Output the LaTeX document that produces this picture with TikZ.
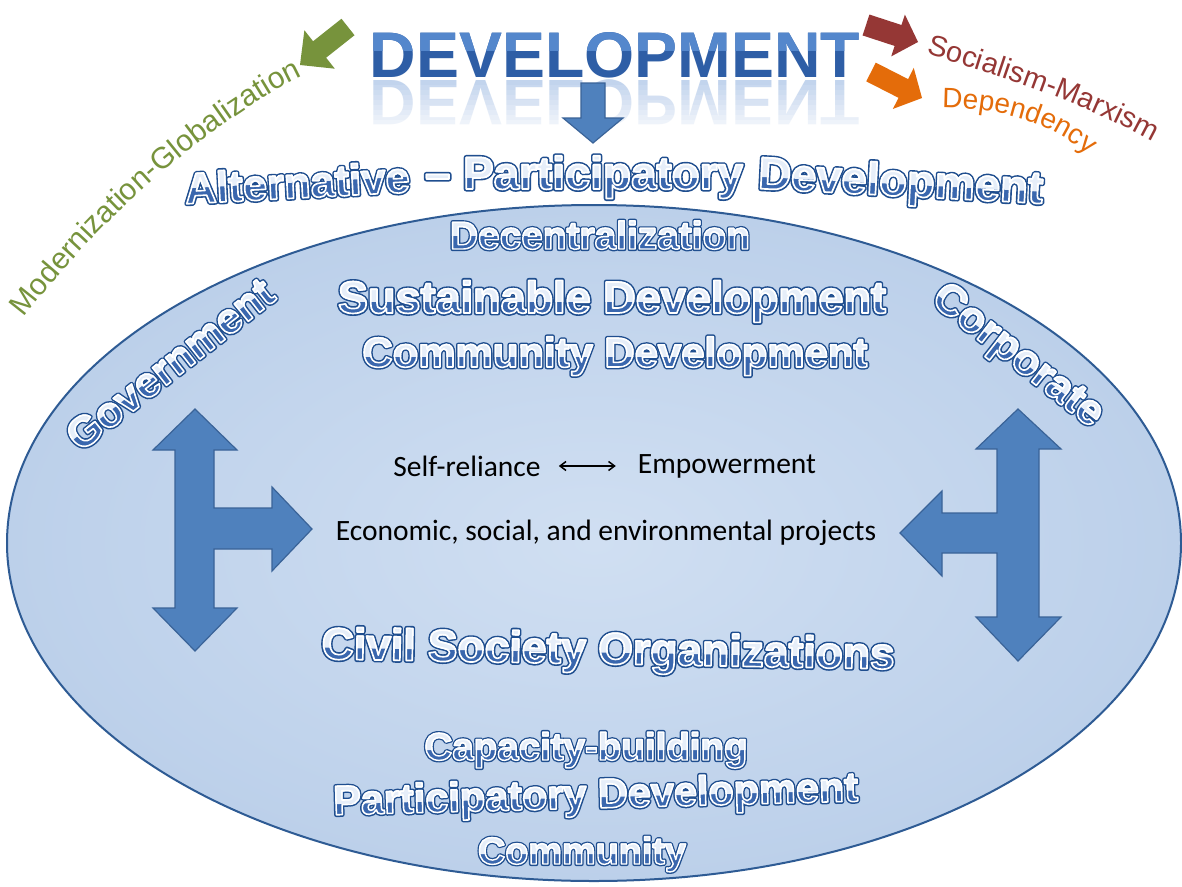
\documentclass[tikz,border=0pt]{standalone}
\usepackage{fontspec}
\usepackage{graphicx}
\usetikzlibrary{calc,decorations.text,arrows.meta}
\setmainfont{Liberation Sans}
\newfontfamily\wafont{Liberation Sans}
\newfontfamily\calfont{Carlito}
\definecolor{ellin}{HTML}{D0DFF2}
\definecolor{ellout}{HTML}{BCD0EA}
\definecolor{ellborder}{HTML}{2E5B94}
\definecolor{afill}{HTML}{4F81BD}
\definecolor{adraw}{HTML}{3A6398}
\definecolor{wdark}{HTML}{1F4E8F}
\definecolor{wlight}{HTML}{E6EEF9}
\definecolor{wblue}{HTML}{3A67AE}
\definecolor{tdark}{HTML}{2E5EA6}
\definecolor{tlight}{HTML}{5487CC}
\definecolor{trefl}{HTML}{A9C2E6}
\definecolor{mgreen}{HTML}{77933C}
\definecolor{mred}{HTML}{953735}
\definecolor{morange}{HTML}{E46C0A}
% stroked text: #1 fill colour, #2 stroke rgb, #3 line width, #4 text
\newcommand\strk[4]{{\color{#1}\special{pdf:literal direct 2 Tr #3 w 1 j #2 RG}#4\special{pdf:literal direct 0 Tr}}}
\newcommand\wabase[1]{%
 \rlap{\strk{wdark}{0.122 0.306 0.561}{4.4}{#1}}%
 \strk{wblue}{1 1 1}{1.5}{#1}}
\newcommand\watop[1]{\strk{wlight}{1 1 1}{1.5}{#1}}
\newcommand\wafmt{\wafont\bfseries\fontsize{40}{40}\selectfont}
% #1 name, #2 position, #3 rotation, #4 width, #5 anchor, #6 text
\newcommand\wordart[6]{%
 \node[inner sep=0, rotate=#3, anchor=#5] (#1) at (#2) {\resizebox{#4}{!}{\wafmt\wabase{#6}}};
 \begin{scope}
 \clip (#1.north west) -- (#1.north east) -- ($(#1.north east)!0.5!(#1.south east)$) -- ($(#1.north west)!0.5!(#1.south west)$) -- cycle;
 \node[inner sep=0, rotate=#3, anchor=#5] at (#2) {\resizebox{#4}{!}{\wafmt\watop{#6}}};
 \end{scope}}
% colored block arrow: #1 colour, #2 tail, #3 tip, #4 half shaft, #5 half head, #6 head length, #7 prefix
\newcommand\blockarrow[7]{%
 \coordinate (#7T) at #2; \coordinate (#7P) at #3;
 \coordinate (#7B) at ($(#7P)!#6!(#7T)$);
 \fill[#1] ($(#7T)!#4!90:(#7P)$) -- ($(#7B)!#4!90:(#7P)$) -- ($(#7B)!#5!90:(#7P)$) -- (#7P)
   -- ($(#7B)!#5!-90:(#7P)$) -- ($(#7B)!#4!-90:(#7P)$) -- ($(#7T)!#4!-90:(#7P)$) -- cycle;}
\tikzset{
 blockfill/.style={fill=afill, draw=adraw, line width=1.2pt, line join=miter},
 caltext/.style={font=\calfont\fontsize{29.5}{32}\selectfont, inner sep=0},
}
\begin{document}
\begin{tikzpicture}[x=1pt,y=-1pt]
\useasboundingbox (0,0) rectangle (1182,886);
\fill[white] (0,0) rectangle (1182,886);
% ellipse
\shade[inner color=ellin, outer color=ellout] (594,543) ellipse [x radius=587pt, y radius=338pt];
\draw[ellborder, line width=2pt] (594,543) ellipse [x radius=587pt, y radius=338pt];
% title reflection
\node[inner sep=0, anchor=base, yscale=-1] (devr) at (615,80) {\resizebox{490pt}{!}{\bfseries\color{trefl}DEVELOPMENT}};
\foreach \i [evaluate=\i as \op using {0.3+0.7*\i/11}] in {0,...,11} {
  \fill[white, opacity=\op] (360,{80+\i*5}) rectangle (875,{85+\i*5});
}
\fill[white] (360,140) rectangle (875,145);
% title
\node[inner sep=0, anchor=base] (dev) at (615,77) {\resizebox{490pt}{!}{\bfseries\color{tdark}DEVELOPMENT}};
\begin{scope}
 \clip (360,0) rectangle (875,50);
 \node[inner sep=0, anchor=base] at (615,77) {\resizebox{490pt}{!}{\bfseries\color{tlight}DEVELOPMENT}};
\end{scope}
% down arrow
\draw[blockfill] (581,83) -- (605,83) -- (605,118) -- (623,118) -- (593,143) -- (563,118) -- (581,118) -- cycle;
% coloured arrows
\blockarrow{mgreen}{(348,27)}{(300,65)}{10.5pt}{24.5pt}{25pt}{g}
\blockarrow{mred}{(866,25)}{(918,42)}{11pt}{22pt}{21pt}{r}
\blockarrow{morange}{(871,72)}{(922,98)}{10.5pt}{23pt}{21pt}{o}
% curved labels
\path[decorate, decoration={text along path, text color=mgreen,
  text={|\fontsize{30}{30}\selectfont|Modernization-Globalization}}]
  (24,318) .. controls (105,214) and (197,134) .. (294,80) -- (340,57);
\path[decorate, decoration={text along path, text color=mred,
  text={|\fontsize{29}{29}\selectfont|Socialism-Marxism}}]
  (926,54) .. controls (1017,80) and (1091,108) .. (1150,140) -- (1182,165);
\path[decorate, decoration={text along path, text color=morange,
  text={|\fontsize{28}{28}\selectfont|Dependency}}]
  (942,108) .. controls (1000,108) and (1048,122) .. (1085,152) -- (1115,180);
% word art
\wordart{alt}{298,198}{3}{225pt}{base}{Alternative}
\wordart{par}{584,189}{0}{318pt}{base}{– Participatory}
\wordart{adev}{900,196}{-3}{285pt}{base}{Development}
\wordart{dec}{600,249}{0}{300pt}{base}{Decentralization}
\wordart{sus}{612,313}{0}{548pt}{base}{Sustainable Development}
\wordart{comd}{615,367}{0}{505pt}{base}{Community Development}
\wordart{gov}{170,364}{38}{250pt}{center}{Government}
\wordart{corp}{1017,357}{-38}{205pt}{center}{Corporate}
\wordart{civ}{608,664}{-1}{573pt}{base}{Civil Society Organizations}
\wordart{cap}{586,760}{0}{323pt}{base}{Capacity-building}
\wordart{pdev}{596,808}{1.5}{525pt}{base}{Participatory Development}
\wordart{com}{582,864}{0}{208pt}{base}{Community}
% T-shaped block arrows
\draw[blockfill] (195,409) -- (237,450) -- (214,450) -- (214,508) -- (272,508) -- (272,487) -- (312,529)
  -- (272,571) -- (272,549) -- (214,549) -- (214,608) -- (237,608) -- (195,651) -- (153,608)
  -- (175,608) -- (175,450) -- (153,450) -- cycle;
\draw[blockfill] (1018,409) -- (1061,449) -- (1039,449) -- (1039,617) -- (1061,617) -- (1018,661)
  -- (976,617) -- (997,617) -- (997,553) -- (942,553) -- (942,576) -- (900,533) -- (942,491)
  -- (942,513) -- (997,513) -- (997,449) -- (976,449) -- cycle;
% plain texts
\node[caltext] (sr) at (467,466) {Self-reliance};
\node[caltext] (em) at (727,466) {Empowerment};
\draw[{Straight Barb[length=6pt,width=9pt]}-{Straight Barb[length=6pt,width=9pt]}, line width=1.5pt, shorten <=18pt, shorten >=22pt] (sr.east) -- (em.west);
\node[caltext] (eco) at (606,533) {Economic, social, and environmental projects};
\end{tikzpicture}
\end{document}
